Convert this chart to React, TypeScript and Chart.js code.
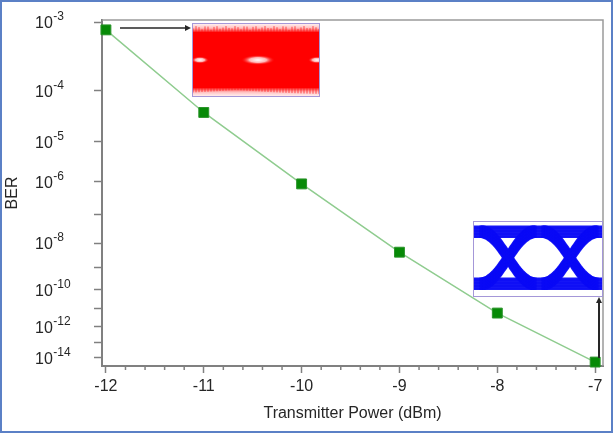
import React, { useEffect, useRef } from "react";
import { Chart, registerables } from "chart.js";

Chart.register(...registerables);

// ---- data ----
const powerDbm = [-12, -11, -10, -9, -8, -7];
const berValues = [8e-4, 4e-5, 8.6e-7, 4.4e-9, 6e-12, 5e-15];
const yTickBer = [1e-3, 1e-4, 1e-5, 1e-6, 1e-7, 1e-8, 1e-9, 1e-10, 1e-11, 1e-12, 1e-13, 1e-14];
const yLabelExponents = [-3, -4, -5, -6, -8, -10, -12, -14];
const xTicks = [-12, -11, -10, -9, -8, -7];
const xMinorStep = 0.2;
const yAxisTopBer = 1.06e-3;
const yAxisBottomBer = 2.6e-15;
const xMin = -12.04;
const xMax = -6.92;

const FONT = "'Liberation Sans', Arial, sans-serif";

// ---- Q-scale transform (BER axis) ----
function erfc(x: number): number {
  const z = Math.abs(x);
  const t = 1 / (1 + 0.5 * z);
  const r =
    t *
    Math.exp(
      -z * z - 1.26551223 +
        t * (1.00002368 + t * (0.37409196 + t * (0.09678418 + t * (-0.18628806 +
        t * (0.27886807 + t * (-1.13520398 + t * (1.48851587 + t * (-0.82215223 + t * 0.17087277))))))))
    );
  return x >= 0 ? r : 2 - r;
}
function qOf(ber: number): number {
  let lo = 0, hi = 40;
  const target = Math.log(ber);
  for (let i = 0; i < 120; i++) {
    const mid = (lo + hi) / 2;
    const v = Math.log(0.5 * erfc(mid / Math.SQRT2));
    if (v > target) lo = mid; else hi = mid;
  }
  return (lo + hi) / 2;
}
const yv = (ber: number) => Math.log10(qOf(ber));

// ---- decorations ----
function drawRedEye(ctx: CanvasRenderingContext2D, x0: number, y0: number, w: number, h: number) {
  ctx.save();
  ctx.beginPath();
  ctx.rect(x0, y0, w, h);
  ctx.clip();
  ctx.fillStyle = "#ffffff";
  ctx.fillRect(x0, y0, w, h);
  const band = 9;
  const g1 = ctx.createLinearGradient(0, y0 + 1, 0, y0 + band);
  g1.addColorStop(0, "rgba(255,80,80,0.1)");
  g1.addColorStop(0.5, "rgba(255,40,40,0.3)");
  g1.addColorStop(1, "rgba(255,0,0,0.9)");
  ctx.fillStyle = g1;
  ctx.fillRect(x0, y0 + 1, w, band);
  const g2 = ctx.createLinearGradient(0, y0 + h - band, 0, y0 + h - 1);
  g2.addColorStop(0, "rgba(255,0,0,0.9)");
  g2.addColorStop(0.5, "rgba(255,40,40,0.3)");
  g2.addColorStop(1, "rgba(255,80,80,0.1)");
  ctx.fillStyle = g2;
  ctx.fillRect(x0, y0 + h - band - 1, w, band);
  ctx.fillStyle = "#ff0000";
  ctx.fillRect(x0, y0 + band, w, h - 2 * band);
  // soft speckled edges
  ctx.fillStyle = "rgba(255,20,20,0.35)";
  for (let i = 0; i < w; i += 3) {
    const a = 2 + 4 * Math.abs(Math.sin(i * 1.37 + 0.4));
    const b = 2 + 4 * Math.abs(Math.cos(i * 2.11 + 0.9));
    ctx.fillRect(x0 + i, y0 + band - a, 2, a);
    ctx.fillRect(x0 + i, y0 + h - band, 2, b);
  }
  // light spots in middle
  const spots = [
    [8, 9, 3.5],
    [66, 17, 5],
    [125, 9, 3.5],
  ];
  const cy = y0 + h / 2;
  for (const [dx, rx, ry] of spots) {
    ctx.save();
    ctx.translate(x0 + dx, cy);
    ctx.scale(rx / ry, 1);
    const rg = ctx.createRadialGradient(0, 0, 0, 0, 0, ry);
    rg.addColorStop(0, "rgba(255,255,255,1)");
    rg.addColorStop(0.5, "rgba(255,215,215,0.85)");
    rg.addColorStop(1, "rgba(255,0,0,0)");
    ctx.fillStyle = rg;
    ctx.beginPath();
    ctx.arc(0, 0, ry, 0, Math.PI * 2);
    ctx.fill();
    ctx.restore();
  }
  ctx.restore();
  ctx.strokeStyle = "#a497d8";
  ctx.lineWidth = 1;
  ctx.strokeRect(x0 + 0.5, y0 + 0.5, w - 1, h - 1);
}

function drawBlueEye(ctx: CanvasRenderingContext2D, x0: number, y0: number, w: number, h: number) {
  ctx.save();
  ctx.fillStyle = "#ffffff";
  ctx.fillRect(x0, y0, w, h);
  ctx.beginPath();
  ctx.rect(x0 + 1, y0 + 1, w - 2, h - 2);
  ctx.clip();
  const top = y0 + 11;
  const bot = y0 + 63;
  const crossings = [x0 + 35, x0 + 97];
  const hw = 27;
  const offs = [-5.5, -4, -2.5, -1, 0.5, 2, 3.5, 5];
  ctx.strokeStyle = "rgba(8,8,245,0.95)";
  ctx.lineWidth = 2;
  for (const o of offs) {
    ctx.beginPath();
    ctx.moveTo(x0, top + o);
    ctx.lineTo(x0 + w, top + o);
    ctx.moveTo(x0, bot + o);
    ctx.lineTo(x0 + w, bot + o);
    ctx.stroke();
  }
  for (const xc of crossings) {
    for (const dxj of [-1.5, 0, 1.5]) {
      for (const o of offs) {
        for (const dir of [1, -1]) {
          ctx.beginPath();
          for (let k = 0; k <= 40; k++) {
            const t = k / 40;
            const x = xc + dxj - hw + 2 * hw * t;
            const s = (1 - Math.cos(Math.PI * t)) / 2;
            const y = dir > 0 ? bot + (top - bot) * s : top + (bot - top) * s;
            if (k === 0) ctx.moveTo(x, y + o);
            else ctx.lineTo(x, y + o);
          }
          ctx.stroke();
        }
      }
    }
  }
  ctx.restore();
  ctx.strokeStyle = "#a497d8";
  ctx.lineWidth = 1;
  ctx.strokeRect(x0 + 0.5, y0 + 0.5, w - 1, h - 1);
}

function drawArrow(ctx: CanvasRenderingContext2D, x1: number, y1: number, x2: number, y2: number, lw: number) {
  const ang = Math.atan2(y2 - y1, x2 - x1);
  const hl = 6, hwid = 3;
  ctx.save();
  ctx.strokeStyle = "#262626";
  ctx.fillStyle = "#262626";
  ctx.lineWidth = lw;
  ctx.beginPath();
  ctx.moveTo(x1, y1);
  ctx.lineTo(x2 - hl * Math.cos(ang), y2 - hl * Math.sin(ang));
  ctx.stroke();
  ctx.beginPath();
  ctx.moveTo(x2, y2);
  ctx.lineTo(x2 - hl * Math.cos(ang) + hwid * Math.sin(ang), y2 - hl * Math.sin(ang) - hwid * Math.cos(ang));
  ctx.lineTo(x2 - hl * Math.cos(ang) - hwid * Math.sin(ang), y2 - hl * Math.sin(ang) + hwid * Math.cos(ang));
  ctx.closePath();
  ctx.fill();
  ctx.restore();
}

const decorPlugin = {
  id: "decor",
  afterDraw(chart: any) {
    const ctx: CanvasRenderingContext2D = chart.ctx;
    const ca = chart.chartArea;
    const xs = chart.scales.x;
    const ys = chart.scales.y;
    ctx.save();
    // top and right frame
    ctx.strokeStyle = "#9a9a9a";
    ctx.lineWidth = 1.5;
    ctx.beginPath();
    ctx.moveTo(ca.left, ca.top);
    ctx.lineTo(ca.right, ca.top);
    ctx.lineTo(ca.right, ca.bottom);
    ctx.stroke();
    // minor x ticks
    ctx.strokeStyle = "#808080";
    ctx.lineWidth = 1.5;
    const n = Math.round((xTicks[xTicks.length - 1] - xTicks[0]) / xMinorStep);
    for (let i = 0; i <= n; i++) {
      const v = xTicks[0] + i * xMinorStep;
      if (Math.abs(v - Math.round(v)) < 1e-6) continue;
      const px = xs.getPixelForValue(v);
      ctx.beginPath();
      ctx.moveTo(px, ca.bottom);
      ctx.lineTo(px, ca.bottom + 4);
      ctx.stroke();
    }
    // y tick labels 10^n
    ctx.fillStyle = "#262626";
    ctx.textAlign = "left";
    ctx.textBaseline = "middle";
    for (const e of yLabelExponents) {
      const py = ys.getPixelForValue(yv(Math.pow(10, e)));
      const lx = ys.left + 33;
      ctx.font = `16px ${FONT}`;
      ctx.fillText("10", lx, py + 2);
      const wTen = ctx.measureText("10").width;
      ctx.font = `12px ${FONT}`;
      ctx.fillText(String(e), lx + wTen + 0.5, py - 5);
    }
    ctx.restore();
    // eye diagrams and arrows
    drawRedEye(ctx, 190, 21, 128, 74);
    drawBlueEye(ctx, 471, 219, 130, 76);
    drawArrow(ctx, 118, 26, 189, 26, 1.5);
    drawArrow(ctx, 597, 356, 597, 295, 2);
  },
};

export default function App() {
  const ref = useRef<HTMLCanvasElement>(null);
  useEffect(() => {
    if (!ref.current) return;
    const chart = new Chart(ref.current, {
      type: "line",
      data: {
        datasets: [
          {
            data: powerDbm.map((p, i) => ({ x: p, y: yv(berValues[i]) })),
            borderColor: "#8fcc8f",
            borderWidth: 1.5,
            backgroundColor: "#078a07",
            pointBackgroundColor: "#078a07",
            pointBorderColor: "#2a942a",
            pointBorderWidth: 1,
            pointStyle: "rect",
            pointRadius: 7,
            tension: 0,
            clip: false as any,
          },
        ],
      },
      options: {
        animation: false,
        responsive: false,
        layout: { padding: { top: 18, right: 5, left: 0, bottom: 0 } },
        plugins: { legend: { display: false }, tooltip: { enabled: false } },
        scales: {
          x: {
            type: "linear",
            min: xMin,
            max: xMax,
            afterBuildTicks: (s: any) => {
              s.ticks = xTicks.map((v) => ({ value: v }));
            },
            afterFit: (s: any) => {
              s.height = 65;
            },
            ticks: {
              color: "#262626",
              font: { family: FONT, size: 16 },
              padding: 4,
              callback: (v: any) => String(v),
              maxRotation: 0,
            },
            grid: { drawOnChartArea: false, drawTicks: true, tickLength: 7, color: "#808080", tickWidth: 1.5 },
            border: { display: true, color: "#808080", width: 2 },
            title: {
              display: true,
              text: "Transmitter Power (dBm)",
              color: "#262626",
              font: { family: FONT, size: 16 },
              padding: { top: 0, bottom: 8 },
            },
          },
          y: {
            type: "linear",
            reverse: true,
            min: yv(yAxisTopBer),
            max: yv(yAxisBottomBer),
            afterBuildTicks: (s: any) => {
              s.ticks = yTickBer.map((b) => ({ value: yv(b) }));
            },
            afterFit: (s: any) => {
              s.width = 100;
            },
            ticks: { callback: () => "", padding: 0 },
            grid: { drawOnChartArea: false, drawTicks: true, tickLength: 8, color: "#808080", tickWidth: 1.5 },
            border: { display: true, color: "#808080", width: 2 },
            title: {
              display: true,
              text: "BER",
              color: "#262626",
              font: { family: FONT, size: 16 },
              padding: { top: 1, bottom: 0 },
            },
          },
        },
      },
      plugins: [decorPlugin],
    });
    return () => chart.destroy();
  }, []);
  return (
    <div
      style={{
        position: "absolute",
        left: 0,
        top: 0,
        width: 613,
        height: 433,
        boxSizing: "border-box",
        border: "2px solid #5b80c6",
        background: "#ffffff",
      }}
    >
      <canvas ref={ref} width={609} height={429} style={{ display: "block" }} />
    </div>
  );
}
